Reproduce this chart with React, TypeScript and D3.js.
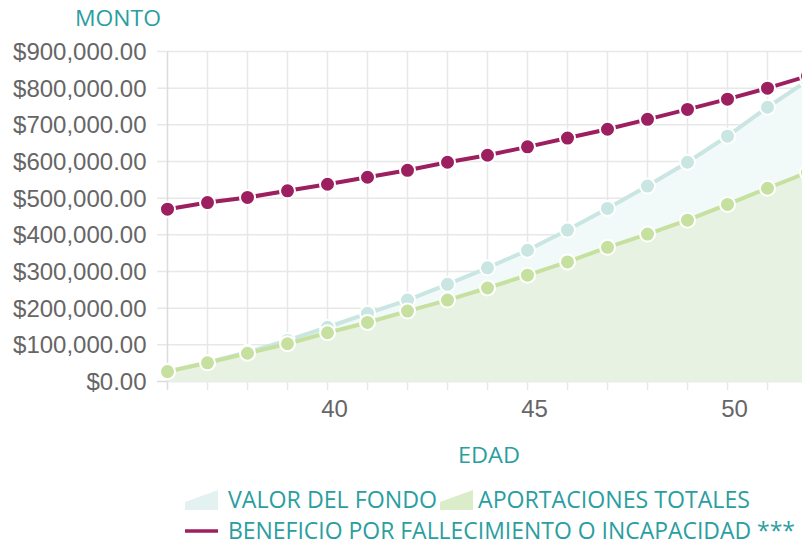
import React from "react";
import * as d3 from "d3";

const ages = [36, 37, 38, 39, 40, 41, 42, 43, 44, 45, 46, 47, 48, 49, 50, 51, 52];
const valorFondo = [27000, 52000, 80000, 112000, 148000, 186000, 222000, 265000, 310000, 358000, 413000, 472000, 533000, 598000, 669000, 748000, 820000];
const aportaciones = [27000, 51000, 77000, 103000, 133000, 161000, 192000, 222000, 255000, 290000, 326000, 366000, 402000, 440000, 483000, 527000, 570000];
const beneficio = [470000, 488000, 502000, 520000, 538000, 557000, 576000, 598000, 617000, 640000, 664000, 688000, 715000, 742000, 770000, 800000, 833000];
const yTicks = [0, 100000, 200000, 300000, 400000, 500000, 600000, 700000, 800000, 900000];
const xTickLabels = [40, 45, 50];
const legendItems = ["VALOR DEL FONDO", "APORTACIONES TOTALES", "BENEFICIO POR FALLECIMIENTO O INCAPACIDAD ***"];

const W = 802;
const H = 546;
const TEAL_TEXT = "#2a9ea0";
const PURPLE = "#9c1f5f";
const TEAL_LINE = "#c9e6e2";
const TEAL_FILL = "#f2f9f9";
const GREEN_LINE = "#c6e0a0";
const GREEN_FILL = "#e8f2e3";
const GRID = "#e8e8e8";

export default function App() {
  const x = d3.scaleLinear().domain([36, 52]).range([167.5, 807.5]);
  const y = d3.scaleLinear().domain([0, 900000]).range([381.5, 51.5]);
  const fmt = (v: number) => "$" + d3.format(",.2f")(v);

  const mkLine = (vals: number[]) =>
    d3.line<number>().x((_, i) => x(ages[i])).y((v) => y(v))(vals) || "";
  const mkArea = (vals: number[]) =>
    d3.area<number>().x((_, i) => x(ages[i])).y0(y(0)).y1((v) => y(v))(vals) || "";

  const points = (vals: number[], color: string) =>
    vals.map((v, i) => (
      <circle key={i} cx={x(ages[i])} cy={y(v)} r={7.5} fill={color} stroke="#fff" strokeWidth={2} />
    ));

  const titleFont = "'Open Sans', sans-serif";

  return (
    <div style={{ position: "absolute", left: 0, top: 0, width: W, height: H, overflow: "hidden", background: "#fff" }}>
      <svg width={W} height={H} style={{ display: "block" }}>
        {yTicks.map((t) => (
          <line key={"h" + t} x1={157} x2={810} y1={y(t)} y2={y(t)} stroke={t === 0 ? "#dcdcdc" : GRID} strokeWidth={1.5} />
        ))}
        {ages.map((a) => (
          <line key={"v" + a} x1={x(a)} x2={x(a)} y1={y(900000)} y2={390} stroke={a === 36 ? "#dcdcdc" : GRID} strokeWidth={1.5} />
        ))}
        {yTicks.map((t) => (
          <text key={"yl" + t} x={146.5} y={y(t)} dy="0.36em" textAnchor="end" fill="#666" fontSize={24}
            fontFamily="'Liberation Sans', Arial, Helvetica, sans-serif">{fmt(t)}</text>
        ))}
        {xTickLabels.map((t) => (
          <text key={"xl" + t} x={x(t) + 7} y={417} textAnchor="middle" fill="#666" fontSize={24}
            fontFamily="'Liberation Sans', Arial, Helvetica, sans-serif">{t}</text>
        ))}
        <path d={mkArea(valorFondo)} fill={TEAL_FILL} />
        <path d={mkArea(aportaciones)} fill={GREEN_FILL} />
        <path d={mkLine(valorFondo)} fill="none" stroke={TEAL_LINE} strokeWidth={4} />
        {points(valorFondo, TEAL_LINE)}
        <path d={mkLine(aportaciones)} fill="none" stroke={GREEN_LINE} strokeWidth={4} />
        {points(aportaciones, GREEN_LINE)}
        <path d={mkLine(beneficio)} fill="none" stroke={PURPLE} strokeWidth={4} />
        {points(beneficio, PURPLE)}
        <text x={75} y={26} fill={TEAL_TEXT} fontSize={22} fontFamily={titleFont} textLength={86} lengthAdjust="spacingAndGlyphs">MONTO</text>
        <text x={458} y={463} fill={TEAL_TEXT} fontSize={22} fontFamily={titleFont} textLength={62} lengthAdjust="spacingAndGlyphs">EDAD</text>
        <polygon points="185,510 185,502 218,490 218,510" fill="#e3f2f1" />
        <text x={228} y={508} fill={TEAL_TEXT} fontSize={23} fontFamily={titleFont} textLength={209} lengthAdjust="spacingAndGlyphs">{legendItems[0]}</text>
        <polygon points="440,510 440,502 473,490 473,510" fill="#dbedc8" />
        <text x={478} y={508} fill={TEAL_TEXT} fontSize={23} fontFamily={titleFont} textLength={272} lengthAdjust="spacingAndGlyphs">{legendItems[1]}</text>
        <line x1={185} x2={218} y1={531} y2={531} stroke={PURPLE} strokeWidth={3.5} />
        <text x={228} y={539} fill={TEAL_TEXT} fontSize={23} fontFamily={titleFont} textLength={567} lengthAdjust="spacingAndGlyphs">{legendItems[2]}</text>
      </svg>
    </div>
  );
}
